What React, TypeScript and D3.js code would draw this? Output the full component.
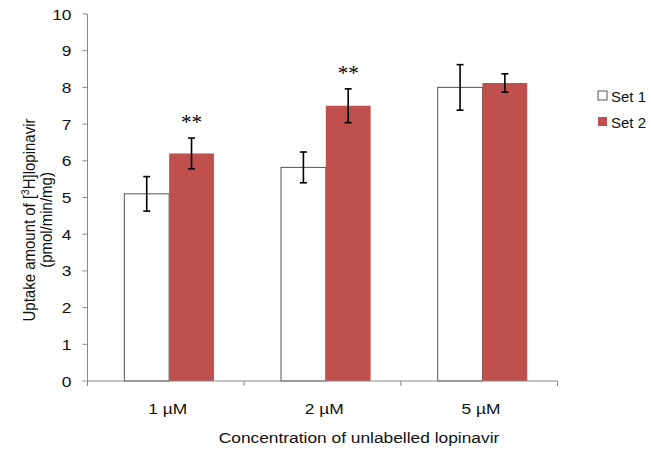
import React from "react";
import * as d3 from "d3";

const categories = ["1 µM", "2 µM", "5 µM"];
const seriesNames = ["Set 1", "Set 2"];
const set1Values = [5.1, 5.82, 8.0];
const set2Values = [6.2, 7.5, 8.12];
const set1Errors = [0.47, 0.42, 0.62];
const set2Errors = [0.42, 0.46, 0.25];
const significance = ["**", "**", ""];
const yTicks = [0, 1, 2, 3, 4, 5, 6, 7, 8, 9, 10];

const W = 651;
const H = 452;
const left = 87.5;
const right = 557.5;
const top = 14;
const bottom = 381;
const colors = ["#FFFFFF", "#C0504D"];
const font = "Liberation Sans, Arial, sans-serif";
const stretch = 1.12;

export default function App() {
  const x = d3.scaleBand<string>().domain(categories).range([left, right]).paddingInner(0).paddingOuter(0);
  const y = d3.scaleLinear().domain([0, 10]).range([bottom, top]);
  const barW = 44.8;
  const series = [
    { name: seriesNames[0], values: set1Values, errors: set1Errors },
    { name: seriesNames[1], values: set2Values, errors: set2Errors },
  ];
  const boundaries = [left, ...categories.map((c) => (x(c) as number) + x.bandwidth())];
  const center = (c: string) => (x(c) as number) + x.bandwidth() / 2 + 3.3;
  return (
    <svg width={W} height={H} style={{ position: "absolute", left: 0, top: 0, background: "#fff" }}>
      {/* bars */}
      {series.map((s, si) =>
        categories.map((c, ci) => {
          const bx = center(c) - barW + si * barW;
          const v = s.values[ci];
          return (
            <rect
              key={`b${si}-${ci}`}
              x={bx}
              y={y(v)}
              width={barW}
              height={bottom - y(v)}
              fill={colors[si]}
              stroke={si === 0 ? "#555" : "none"}
              strokeWidth={1}
            />
          );
        })
      )}
      {/* error bars */}
      {series.map((s, si) =>
        categories.map((c, ci) => {
          const ex = center(c) - barW / 2 + si * barW;
          const v = s.values[ci];
          const e = s.errors[ci];
          return (
            <g key={`e${si}-${ci}`} stroke="#000" strokeWidth={1.6}>
              <line x1={ex} x2={ex} y1={y(v + e)} y2={y(v - e)} />
              <line x1={ex - 3.5} x2={ex + 3.5} y1={y(v + e)} y2={y(v + e)} />
              <line x1={ex - 3.5} x2={ex + 3.5} y1={y(v - e)} y2={y(v - e)} />
            </g>
          );
        })
      )}
      {/* significance */}
      {categories.map((c, ci) => {
        const ex = center(c) + barW / 2;
        return significance[ci] ? (
          <text
            key={`s${ci}`}
            x={ex}
            y={y(set2Values[ci] + set2Errors[ci]) - 9}
            textAnchor="middle"
            fontFamily="Liberation Serif, Times New Roman, serif"
            fontSize={21}
            fill="#000"
          >
            {significance[ci]}
          </text>
        ) : null;
      })}
      {/* axes */}
      <line x1={left} x2={left} y1={top} y2={bottom} stroke="#888" />
      <line x1={left} x2={right} y1={bottom} y2={bottom} stroke="#888" />
      {yTicks.map((t) => (
        <g key={`yt${t}`}>
          <line x1={left - 5} x2={left} y1={y(t)} y2={y(t)} stroke="#888" />
          <g transform={`translate(${left - 16},${y(t) + 5.5}) scale(${stretch},1)`}>
            <text x={0} y={0} textAnchor="end" fontFamily={font} fontSize={15.5} fill="#111">
              {t}
            </text>
          </g>
        </g>
      ))}
      {boundaries.map((b, i) => (
        <line key={`xt${i}`} x1={b} x2={b} y1={bottom} y2={bottom + 5} stroke="#888" />
      ))}
      {categories.map((c) => (
        <g key={`xl${c}`} transform={`translate(${center(c) - 1.5},414) scale(${stretch},1)`}>
          <text x={0} y={0} textAnchor="middle" fontFamily={font} fontSize={15.5} fill="#111">
            {c}
          </text>
        </g>
      ))}
      <g transform={`translate(359,443) scale(${stretch},1)`}>
        <text x={0} y={0} textAnchor="middle" fontFamily={font} fontSize={15.5} fill="#111">
          Concentration of unlabelled lopinavir
        </text>
      </g>
      <g transform={`translate(35,220) scale(${stretch},1) rotate(-90)`}>
        <text x={0} y={0} textAnchor="middle" fontFamily={font} fontSize={15} fill="#111">
          Uptake amount of [<tspan dy={-5} fontSize={10}>3</tspan>
          <tspan dy={5}>H]lopinavir</tspan>
        </text>
        <text x={0} y={15} textAnchor="middle" fontFamily={font} fontSize={15} fill="#111">
          (pmol/min/mg)
        </text>
      </g>
      {/* legend */}
      {seriesNames.map((n, i) => (
        <g key={`lg${n}`} transform={`translate(598,${91 + i * 26})`}>
          <rect x={0} y={0} width={9} height={9} fill={colors[i]} stroke={i === 0 ? "#555" : "none"} />
          <text x={13} y={10.5} fontFamily={font} fontSize={15} fill="#111">
            {n}
          </text>
        </g>
      ))}
    </svg>
  );
}
